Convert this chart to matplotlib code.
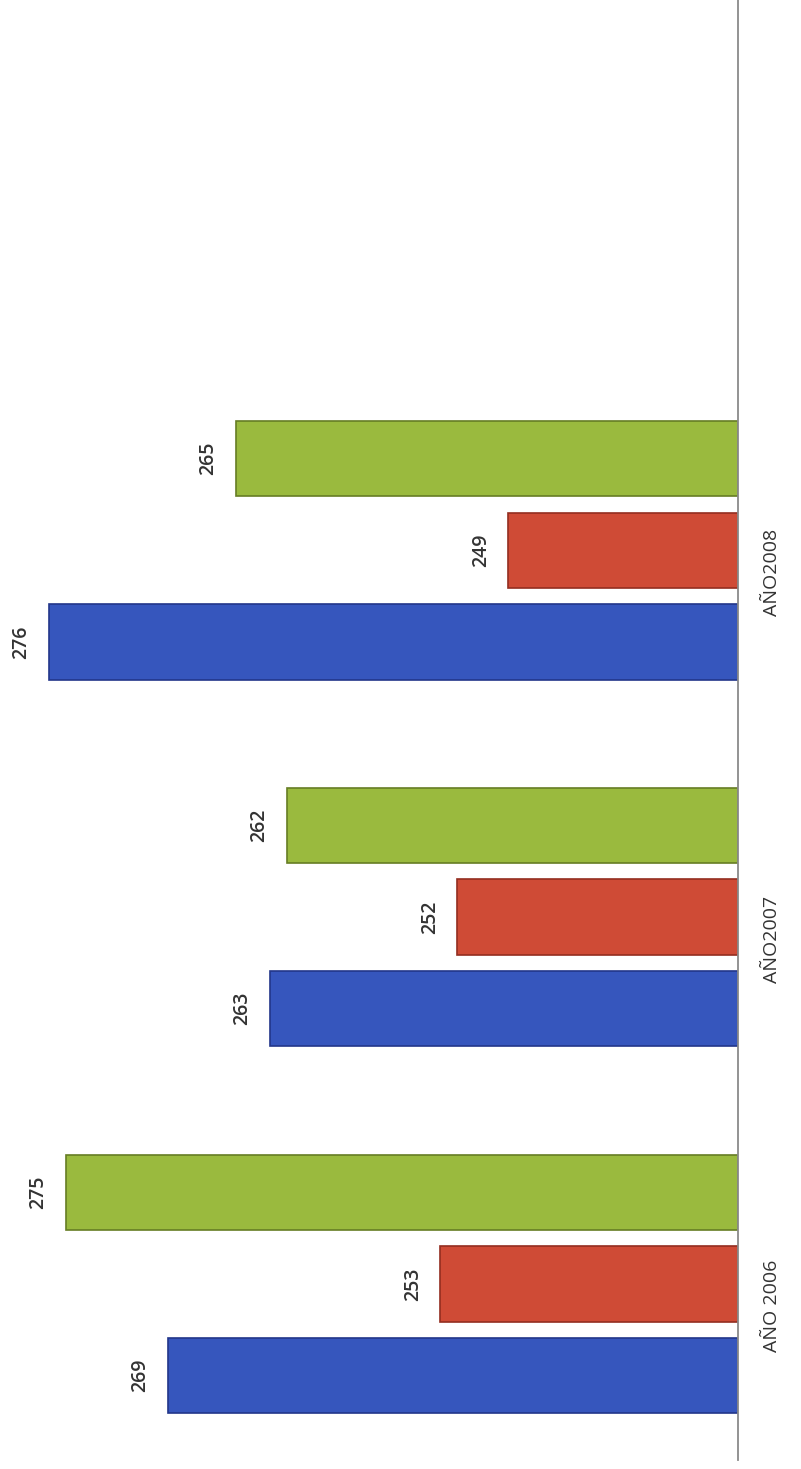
import matplotlib.pyplot as plt
import numpy as np

plt.rcParams['font.family'] = ['Open Sans', 'DejaVu Sans']

categories = ['AÑO 2006', 'AÑO2007', 'AÑO2008']
blue_vals = [269, 263, 276]
red_vals = [253, 252, 249]
green_vals = [275, 262, 265]

colors = ['#3656bd', '#cf4b36', '#9aba3e']
edges = ['#22368a', '#932e20', '#667d24']

fig = plt.figure(figsize=(8.01, 14.69), dpi=100)
ax = fig.add_axes([0.0, 9 / 1469, 738 / 801, 1460 / 1469])

y = np.arange(len(categories))
w = 0.205
off = 0.25
for i, vals in enumerate([blue_vals, red_vals, green_vals]):
    pos = y + (i - 1) * off
    bars = ax.barh(pos, np.array(vals) - 235.5, left=235.5, height=w,
                   color=colors[i], edgecolor=edges[i], linewidth=1.2)
    for p, v in zip(pos, vals):
        ax.annotate(str(v), (v, p), xytext=(-20, 0), textcoords='offset points',
                    rotation=90, ha='center', va='center', fontsize=14,
                    fontweight='semibold', color='#333333')

ax.set_xlim(278.9, 235.5)  # bars grow to the left
ax.set_ylim(-0.48, 3.5)

for s in ['left', 'top', 'bottom']:
    ax.spines[s].set_visible(False)
ax.spines['right'].set_color('#8a8a8a')
ax.spines['right'].set_linewidth(1.3)
ax.set_xticks([])
ax.yaxis.tick_right()
ax.set_yticks(y - 0.06)
ax.set_yticklabels(categories, rotation=90, va='center', fontsize=14,
                   color='#333333')
ax.tick_params(axis='y', length=0, pad=18)

fig.savefig('out.png', dpi=100)
